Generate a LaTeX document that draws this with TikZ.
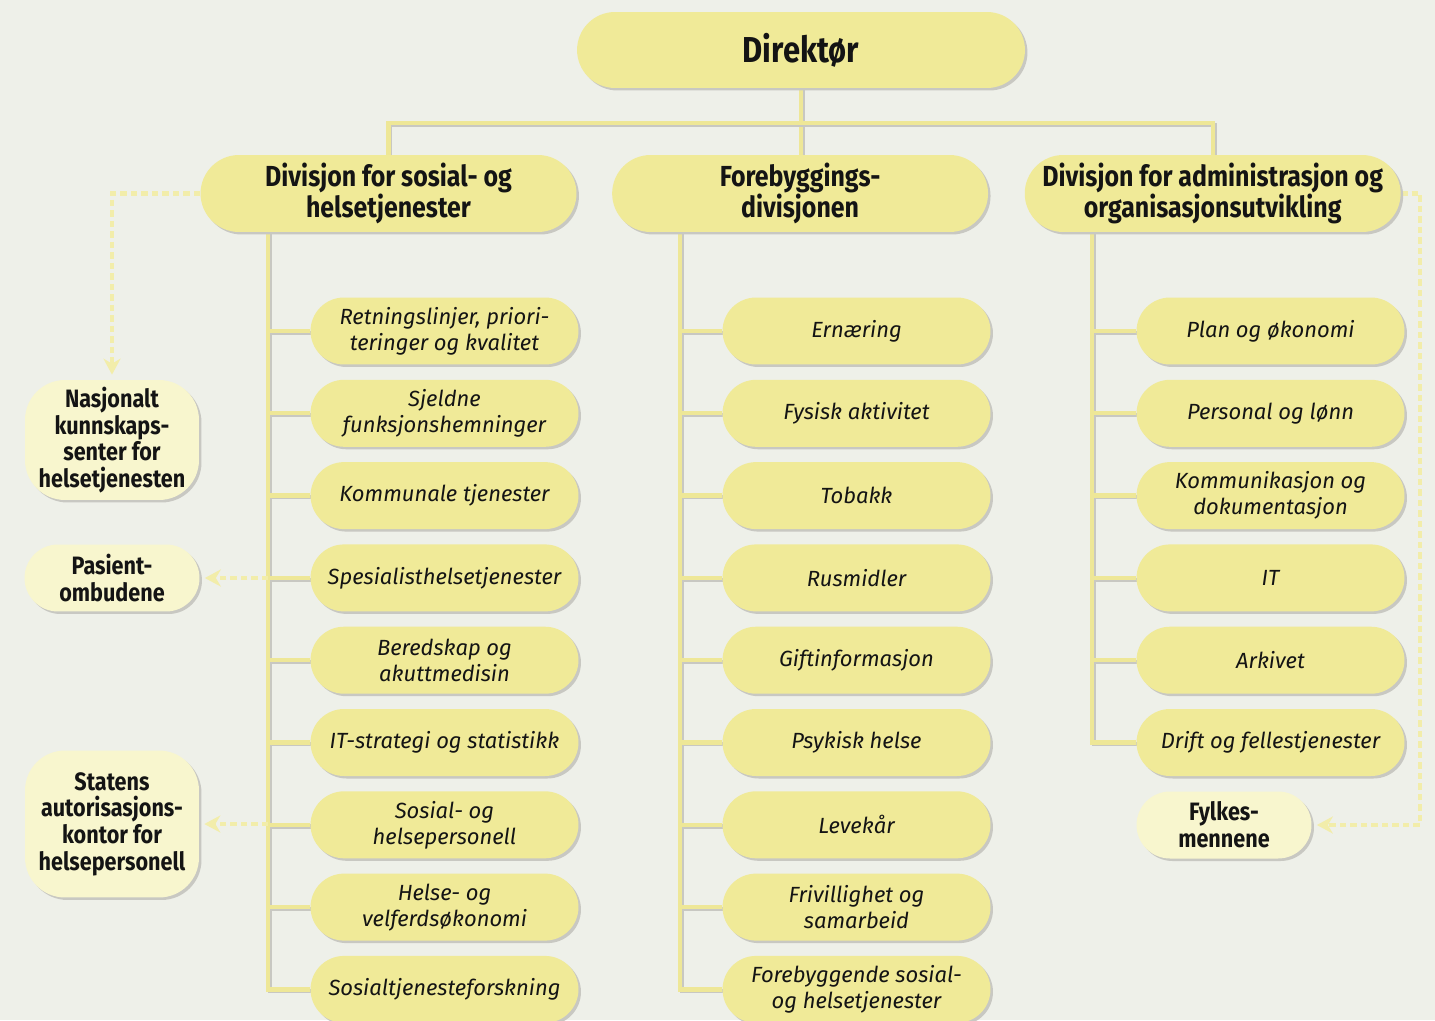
\documentclass[tikz,border=0pt]{standalone}
\usepackage{fontspec}
\setmainfont{Fira Sans}
\newfontfamily\headfont{Fira Sans}[FakeStretch=0.86]
\usetikzlibrary{arrows.meta, positioning, shapes.misc, calc, shadows, backgrounds}
\definecolor{cbg}{HTML}{EEF0E9}
\definecolor{cbox}{HTML}{F0EA98}
\definecolor{cside}{HTML}{F8F6CE}
\definecolor{cline}{HTML}{EEE797}
\definecolor{cdash}{HTML}{F2EDAA}
\definecolor{cshade}{HTML}{C8C8C2}
\definecolor{ctext}{HTML}{141414}
\tikzset{
  boxshadow/.style={drop shadow={shadow xshift=0.05cm, shadow yshift=-0.05cm, fill=cshade, opacity=1}},
  pill/.style={rounded rectangle, fill=#1, boxshadow, align=center, inner sep=2pt, text=ctext},
  pill/.default=cbox,
  topbox/.style={pill, minimum width=9.1cm, minimum height=1.52cm, font=\headfont\bfseries\fontsize{20.5}{22}\selectfont},
  divbox/.style={pill, minimum width=7.66cm, minimum height=1.54cm, font=\headfont\bfseries\fontsize{16.5}{16.5}\selectfont},
  subbox/.style={pill, minimum width=5.5cm, minimum height=1.34cm, font=\itshape\fontsize{12.5}{14.8}\selectfont},
  sidebox/.style={fill=cside, boxshadow, rounded corners=0.8cm, align=center, text=ctext, minimum width=3.48cm, font=\headfont\bfseries\fontsize{14.3}{15.2}\selectfont},
  sidepill/.style={pill=cside, minimum width=3.64cm, minimum height=1.34cm, font=\headfont\bfseries\fontsize{14.3}{15.2}\selectfont},
  link/.style={draw=cline, line width=2.4pt, preaction={draw=cshade, line width=2.4pt, transform canvas={shift={(0.035cm,-0.035cm)}}}},
  dasharrow/.style={draw=cdash, line width=2.4pt, dash pattern=on 0.13cm off 0.08cm, -{Stealth[length=0.32cm, width=0.34cm, inset=0.1cm, fill=cdash]}, shorten >=0.1cm},
}

\begin{document}
\begin{tikzpicture}[x=0.02cm, y=-0.02cm]
  \useasboundingbox (0,0) rectangle (1435,1020);

  % top levels
  \node[topbox] (dir) at (801,50) {Direktør};
  \node[divbox] (ldiv) at (388.5,193.5) {Divisjon for sosial- og\\helsetjenester};
  \node[divbox, right=0.7cm of ldiv] (cdiv) {Forebyggings-\\divisjonen};
  \node[divbox, right=0.72cm of cdiv] (rdiv) {Divisjon for administrasjon og\\organisasjonsutvikling};

  % sections
  \foreach \txt [count=\i] in {{Retningslinjer, priori-\\teringer og kvalitet}, Sjeldne\\funksjonshemninger,
      Kommunale tjenester, Spesialisthelsetjenester, Beredskap og\\akuttmedisin, IT-strategi og statistikk,
      Sosial- og\\helsepersonell, Helse- og\\velferdsøkonomi, Sosialtjenesteforskning}
    \node[subbox] (l\i) at (444.5,{248.7+82.3*\i}) {\txt};
  \foreach \txt [count=\i] in {Ernæring, Fysisk aktivitet, Tobakk, Rusmidler, Giftinformasjon, Psykisk helse,
      Levekår, Frivillighet og\\samarbeid, Forebyggende sosial-\\og helsetjenester}
    \node[subbox] (c\i) at (856.5,{248.7+82.3*\i}) {\txt};
  \foreach \txt [count=\i] in {Plan og økonomi, Personal og lønn, Kommunikasjon og\\dokumentasjon, IT,
      Arkivet, Drift og fellestjenester}
    \node[subbox] (r\i) at (1270.5,{248.7+82.3*\i}) {\txt};

  % outside bodies
  \node[sidebox, minimum height=2.4cm] (nas) at (112,440) {Nasjonalt\\kunnskaps-\\senter for\\helsetjenesten};
  \node[sidepill] (pas) at (112,578) {Pasient-\\ombudene};
  \node[sidebox, minimum height=2.94cm] (sta) at (112,824) {Statens\\autorisasjons-\\kontor for\\helsepersonell};
  \node[sidepill] (fyl) at (1224,825) {Fylkes-\\mennene};

  \begin{scope}[on background layer]
    \fill[cbg] (0,0) rectangle (1435,1020);
    \coordinate (bar) at ($(dir.south)+(0,35)$);
    \draw[link] (dir.south) -- (dir.south |- cdiv.north);
    \draw[link] (ldiv.north) |- (bar) -| (rdiv.north);
    \coordinate (ltrunk) at ($(ldiv.south)+(-120.5,0)$);
    \coordinate (ctrunk) at ($(cdiv.south)+(-120,0)$);
    \coordinate (rtrunk) at ($(rdiv.south)+(-120.5,0)$);
    \draw[link] (ltrunk) |- (l9.west);
    \draw[link] (ctrunk) |- (c9.west);
    \draw[link] (rtrunk) |- (r6.west);
    \foreach \i in {1,...,8} {
      \draw[link] (ltrunk |- l\i.west) -- (l\i.west);
      \draw[link] (ctrunk |- c\i.west) -- (c\i.west);
    }
    \foreach \i in {1,...,5}
      \draw[link] (rtrunk |- r\i.west) -- (r\i.west);
    % dashed ties
    \draw[dasharrow] (ldiv.west) -| (nas.north);
    \draw[dasharrow] (ltrunk |- pas.east) -- (pas.east);
    \draw[dasharrow] (ltrunk |- sta.east) -- (sta.east);
    \draw[dasharrow] (rdiv.east) -- ++(19,0) |- (fyl.east);
  \end{scope}
\end{tikzpicture}
\end{document}
